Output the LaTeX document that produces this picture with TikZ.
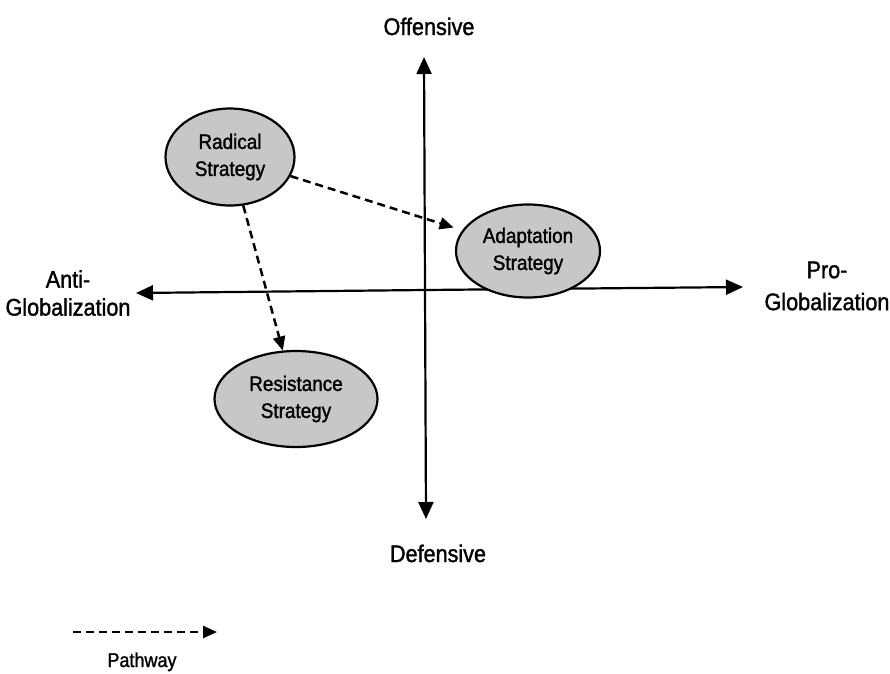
\documentclass[tikz,border=0pt]{standalone}
\usepackage{fontspec}
\setmainfont{Liberation Sans}[FakeStretch=0.9,FakeBold=1.4]
\usetikzlibrary{arrows.meta,shapes.geometric}
\begin{document}
\begin{tikzpicture}[x=1pt,y=-1pt,
  axis/.style={line width=2.2pt,-{Triangle[length=17pt,width=15pt]}},
  path/.style={line width=2.5pt,dash pattern=on 8pt off 5pt,-{Triangle[length=14pt,width=12pt]}},
  strat/.style={ellipse,draw,line width=2.2pt,fill=black!22,inner sep=0pt,align=center,
    font=\fontsize{21}{27}\selectfont},
  lbl/.style={font=\fontsize{24}{30}\selectfont,inner sep=0pt}]
\useasboundingbox (0,0) rectangle (890,673);
% axes
\coordinate (vt) at (424,57);
\coordinate (vb) at (426,519);
\coordinate (hl) at (136,293);
\coordinate (hr) at (743,287);
\coordinate (vm) at (425,290);
\draw[axis] (vm) -- (vt);
\draw[axis] (vm) -- (vb);
\draw[axis] (vm) -- (hl);
\draw[axis] (vm) -- (hr);
% labels
\node[lbl,anchor=base] (off) at (429,35) {Offensive};
\node[lbl,anchor=base] (def) at (438,562) {Defensive};
\node[lbl,align=center,font=\fontsize{24}{28}\selectfont] (anti) at (68,293) {Anti-\\Globalization};
\node[lbl,align=center,font=\fontsize{24}{32}\selectfont] (pro) at (827,286) {Pro-\\Globalization};
% strategies
\node[strat,minimum width=129pt,minimum height=97pt] (rad) at (230,157) {Radical\\Strategy};
\node[strat,minimum width=144pt,minimum height=93pt] (adp) at (528,251) {Adaptation\\Strategy};
\node[strat,minimum width=163pt,minimum height=96pt] (res) at (296,399) {Resistance\\Strategy};
% pathways
\draw[path,shorten >=9pt] (rad) -- (adp);
\draw[path] (rad) -- (res);
% legend
\coordinate (l1) at (73,632);
\coordinate (l2) at (217,632);
\draw[path] (l1) -- (l2);
\node[anchor=base,inner sep=0pt,font=\fontsize{20}{24}\selectfont] (pw) at (142,667) {Pathway};
\end{tikzpicture}
\end{document}
